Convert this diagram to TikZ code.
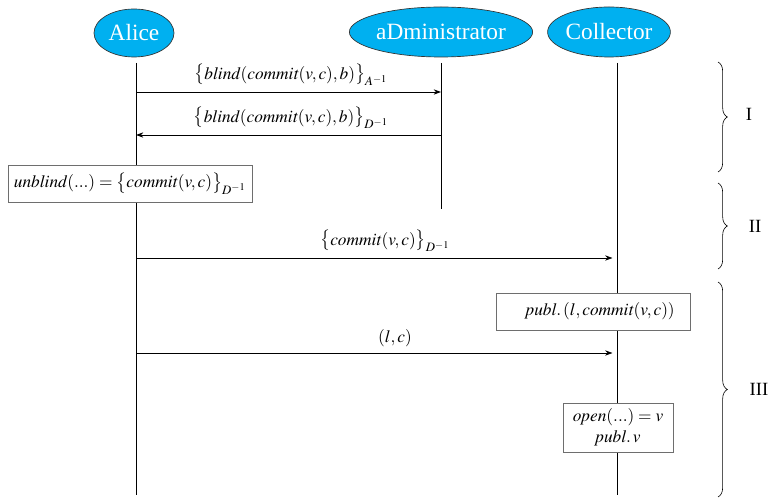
\documentclass[tikz,border=0pt]{standalone}
\usepackage{mathptmx}
\usepackage{fontspec}
\setmainfont{Liberation Serif}
\usetikzlibrary{shapes.geometric,arrows.meta,decorations.pathreplacing}
\definecolor{actorfill}{RGB}{0,176,240}
\definecolor{boxline}{RGB}{110,110,110}
\tikzset{
  actor/.style={ellipse, draw=black!80, line width=0.5pt, fill=actorfill,
    text=white, inner sep=0pt, font=\fontsize{17.5}{17.5}\selectfont},
  lifeline/.style={line width=0.7pt},
  msg/.style={line width=0.6pt, -{Stealth[length=5.5pt,width=4pt]}},
  msglabel/.style={inner sep=0pt, font=\fontsize{13}{15}\selectfont},
  actionbox/.style={draw=boxline, line width=0.6pt, fill=white, inner sep=0pt,
    font=\fontsize{13}{15}\selectfont, align=center},
  phase/.style={decorate, decoration={brace, amplitude=7pt}, line width=0.45pt},
  phaselabel/.style={font=\fontsize{14}{14}\selectfont, inner sep=0pt}
}
\begin{document}
\begin{tikzpicture}[x=0.75pt, y=-0.75pt]
\useasboundingbox (0,0) rectangle (771,498);

% participants
\node[actor, minimum width=60pt, minimum height=36pt] (alice) at (134,33) {Alice};
\node[actor, minimum width=110pt, minimum height=37.5pt] (admin) at (441,32) {aDministrator};
\node[actor, minimum width=78pt, minimum height=37.5pt] (coll) at (609,32) {Collector};

% lifeline ends
\coordinate (aliceT) at (136,63);
\coordinate (aliceB) at (136,495);
\coordinate (adminT) at (441,63);
\coordinate (adminB) at (441,209);
\coordinate (collT) at (617,63);
\coordinate (collB) at (617,495);
\draw[lifeline] (aliceT) -- (aliceB);
\draw[lifeline] (adminT) -- (adminB);
\draw[lifeline] (collT) -- (collB);

% phase I: blind signature
\coordinate (a1) at (136,92);  \coordinate (d1) at (441,92);
\draw[msg] (a1) -- (d1);
\node[msglabel] (m1) at (291,75) {$\bigl\{\mathit{blind}(\mathit{commit}(v,c),b)\bigr\}_{A^{-1}}$};
\coordinate (a2) at (136,135); \coordinate (d2) at (441,135);
\draw[msg] (d2) -- (a2);
\node[msglabel] (m2) at (291,118) {$\bigl\{\mathit{blind}(\mathit{commit}(v,c),b)\bigr\}_{D^{-1}}$};

\node[actionbox, minimum width=183pt, minimum height=27.75pt] (unb) at (130,183.5)
  {$\mathit{unblind}(...)=\bigl\{\mathit{commit}(v,c)\bigr\}_{D^{-1}}$};

% phase II: send signed commitment
\coordinate (a3) at (136,258); \coordinate (c3) at (617,258);
\draw[msg, shorten >=3.4pt] (a3) -- (c3);
\node[msglabel] (m3) at (385,241) {$\bigl\{\mathit{commit}(v,c)\bigr\}_{D^{-1}}$};

% phase III: publish and open
\node[actionbox, minimum width=146pt, minimum height=27.75pt] (pub) at (593.5,311.5)
  {\hspace*{10pt}$\mathit{publ}.\,(l,\mathit{commit}(v,c))$};
\coordinate (a4) at (136,353); \coordinate (c4) at (617,353);
\draw[msg, shorten >=3.4pt] (a4) -- (c4);
\node[msglabel] (m4) at (395,338) {$(l,c)$};
\node[actionbox, minimum width=82.5pt, minimum height=36.75pt] (opn) at (618,427.5)
  {$\mathit{open}(...)=v$\\[1pt]$\mathit{publ}.\,v$};

% phase braces
\coordinate (b1t) at (718,62);  \coordinate (b1b) at (718,172);
\coordinate (b2t) at (718,183); \coordinate (b2b) at (718,269);
\coordinate (b3t) at (718,282); \coordinate (b3b) at (718,497);
\draw[phase] (b1t) -- (b1b);
\draw[phase] (b2t) -- (b2b);
\draw[phase] (b3t) -- (b3b);
\node[phaselabel] (p1) at (749,114) {I};
\node[phaselabel] (p2) at (755,226) {II};
\node[phaselabel] (p3) at (759,389) {III};
\end{tikzpicture}
\end{document}
